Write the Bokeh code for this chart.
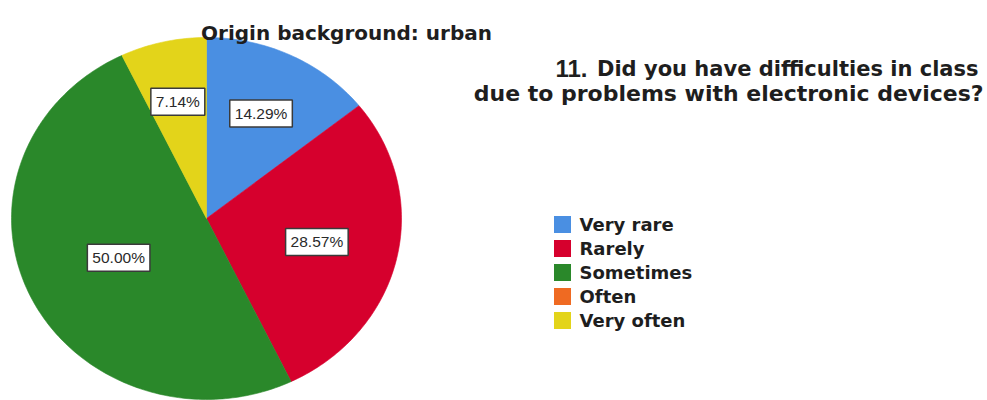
import numpy as np
from bokeh.plotting import figure
from bokeh.models import Range1d, ColumnDataSource
from bokeh.core.properties import value
from bokeh.embed import file_html
from bokeh.resources import INLINE

# ---- data ----
categories = ["Very rare", "Rarely", "Sometimes", "Often", "Very often"]
percentages = [14.29, 28.57, 50.00, 0.00, 7.14]
colors = ["#4a8fe2", "#d6002d", "#2a882a", "#ef6a22", "#e3d41a"]
title_text = "Origin background: urban"
question_num = "11."
question_line1 = "Did you have difficulties in class"
question_line2 = "due to problems with electronic devices?"

W, H = 987, 400
p = figure(width=W, height=H, x_range=Range1d(0, W), y_range=Range1d(H, 0),
           output_backend="svg", toolbar_location=None, min_border=0)
p.axis.visible = False
p.grid.visible = False
p.outline_line_color = None
p.background_fill_color = "white"
p.border_fill_color = "white"

# ---- pie (slightly elliptical, clockwise from 12 o'clock) ----
cx, cy, rx, ry = 206, 218, 195, 181
frac = np.array(percentages) / sum(percentages)
ends = np.cumsum(frac) * 2 * np.pi
starts = ends - frac * 2 * np.pi

xs, ys, cols = [], [], []
lx, ly, ltxt = [], [], []
for s, e, f, c, pct in zip(starts, ends, frac, colors, percentages):
    if f <= 0:
        continue
    n = max(int(np.degrees(e - s)), 2) + 1
    t = np.linspace(s, e, n)
    xs.append([cx] + list(cx + rx * np.sin(t)))
    ys.append([cy] + list(cy - ry * np.cos(t)))
    cols.append(c)
    half = (e - s) / 2
    rc = max(2.0 / 3.0 * np.sin(half) / half, 0.5)
    mid = (s + e) / 2
    lx.append(cx + rc * rx * np.sin(mid))
    ly.append(cy - rc * ry * np.cos(mid))
    ltxt.append(f"{pct:.2f}%")

p.patches(xs, ys, fill_color=cols, line_color=cols, line_width=0.6)

p.text(x=lx, y=ly, text=ltxt, text_font=value("Liberation Sans"),
       text_font_size="15.5px", text_color="#2a2a2a", text_align="center",
       text_baseline="middle", background_fill_color="white",
       border_line_color="#3a3a3a", border_line_width=1.5, padding=5)

# ---- titles ----
p.text(x=[346], y=[32], text=[title_text], text_font=value("DejaVu Sans"),
       text_font_style="bold", text_font_size="20px", text_color="#1e1e1e",
       text_align="center", text_baseline="alphabetic")
p.text(x=[555], y=[68], text=[question_num], text_font=value("Liberation Sans"),
       text_font_style="bold", text_font_size="24px", text_color="#1e1e1e",
       text_align="left", text_baseline="alphabetic")
p.text(x=[978], y=[68], text=[question_line1], text_font=value("DejaVu Sans"),
       text_font_style="bold", text_font_size="21px", text_color="#1e1e1e",
       text_align="right", text_baseline="alphabetic")
p.text(x=[983], y=[93], text=[question_line2], text_font=value("DejaVu Sans"),
       text_font_style="bold", text_font_size="22px", text_color="#1e1e1e",
       text_align="right", text_baseline="alphabetic")

# ---- legend ----
leg_top, leg_step = 224, 24
leg_y = [leg_top + i * leg_step for i in range(len(categories))]
src = ColumnDataSource(dict(x=[562] * len(categories), tx=[579] * len(categories),
                            y=leg_y, c=colors, t=categories))
p.rect(x="x", y="y", width=17, height=17, fill_color="c", line_color=None, source=src)
p.text(x="tx", y="y", text="t", text_font=value("DejaVu Sans"), text_font_style="bold",
       text_font_size="18px", text_color="#1e1e1e", text_align="left",
       text_baseline="middle", source=src)

open("out.html", "w").write(file_html(p, INLINE))
